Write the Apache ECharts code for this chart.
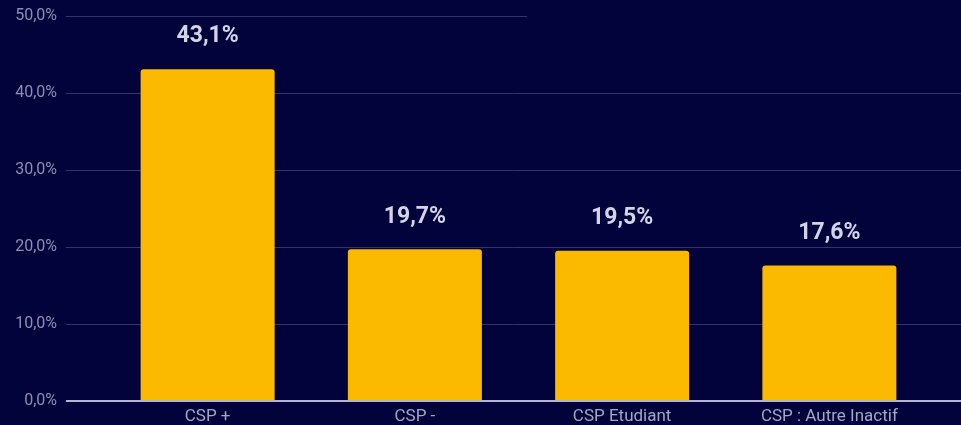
<!DOCTYPE html>
<html><head><meta charset="utf-8">
<script src="https://cdn.jsdelivr.net/npm/echarts@6/dist/echarts.min.js"></script>
<style>html,body{margin:0;padding:0;background:#03033b;}#c{width:961px;height:425px;}</style>
</head><body><div id="c"></div>
<script>
const categories = ['CSP +', 'CSP -', 'CSP Etudiant', 'CSP : Autre Inactif'];
const values = [43.1, 19.7, 19.5, 17.6];
const yTicks = [0, 10, 20, 30, 40, 50];

const fmt = v => v.toFixed(1).replace('.', ',') + '%';
const chart = echarts.init(document.getElementById('c'));
chart.setOption({
  backgroundColor: '#03033b',
  animation: false,
  grid: [
    {left: 104, right: 28, top: 16, bottom: 24},
    {left: 66, right: 0, top: 16, bottom: 24}
  ],
  xAxis: [
    {type: 'category', gridIndex: 0, data: categories,
     axisLine: {show: false}, axisTick: {show: false},
     axisLabel: {color: '#a4a4c4', fontSize: 17, fontFamily: 'Roboto', margin: 7}},
    {type: 'value', gridIndex: 1, min: 0, max: 1, show: false}
  ],
  yAxis: [
    {type: 'value', gridIndex: 0, min: yTicks[0], max: yTicks[yTicks.length-1], interval: 10,
     axisLabel: {show: false}, splitLine: {show: false}, axisLine: {show: false}, axisTick: {show: false}},
    {type: 'value', gridIndex: 1, min: yTicks[0], max: yTicks[yTicks.length-1], interval: 10,
     axisLine: {show: false}, axisTick: {show: false},
     axisLabel: {color: '#8e8eb4', fontSize: 16, fontFamily: 'Roboto', margin: 9, formatter: v => fmt(v)},
     splitLine: {show: true, showMinLine: false, showMaxLine: false, lineStyle: {color: '#34346c', width: 1}}}
  ],
  series: [
    {type: 'bar', xAxisIndex: 0, yAxisIndex: 0, data: values, barWidth: 134,
     itemStyle: {color: '#fbb900', borderRadius: [3, 3, 0, 0]},
     label: {show: true, position: 'top', distance: 21, color: '#d4d4e8', fontSize: 23,
             fontWeight: 'bold', fontFamily: 'Roboto', formatter: p => fmt(p.value)}},
    {type: 'line', xAxisIndex: 1, yAxisIndex: 1, data: [], silent: true,
     markLine: {symbol: 'none', silent: true, label: {show: false},
       data: [
         [{coord: [0, 0], lineStyle: {color: '#b4b4d4', width: 2, type: 'solid'}}, {coord: [1, 0]}],
         [{coord: [0, 50], lineStyle: {color: '#34346c', width: 1, type: 'solid'}}, {coord: [0.515, 50]}]
       ]}}
  ]
});
</script></body></html>
